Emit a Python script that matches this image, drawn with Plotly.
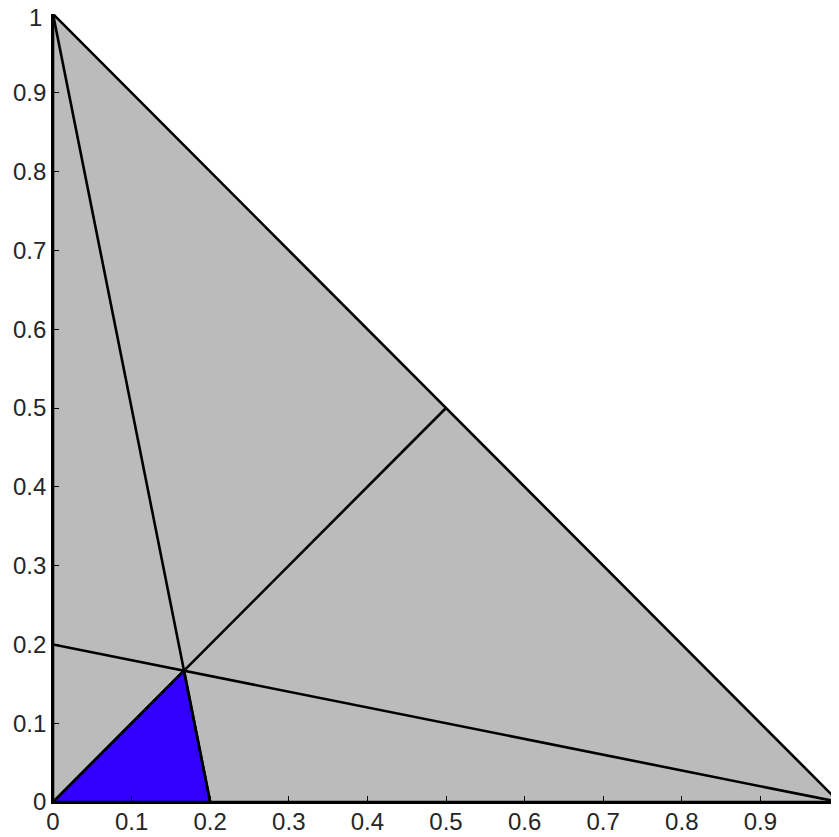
import plotly.graph_objects as go

# Data
outer_x = [0, 1, 0, 0]
outer_y = [0, 0, 1, 0]
blue_x = [0, 0.2, 1/6, 0]
blue_y = [0, 0, 1/6, 0]
seg1_x = [0, 0.2]
seg1_y = [1, 0]
seg2_x = [0, 0.5]
seg2_y = [0, 0.5]
seg3_x = [0, 1]
seg3_y = [0.2, 0]
tick_vals = [0, 0.1, 0.2, 0.3, 0.4, 0.5, 0.6, 0.7, 0.8, 0.9, 1]
tick_text = ["0", "0.1", "0.2", "0.3", "0.4", "0.5", "0.6", "0.7", "0.8", "0.9", "1"]

GRAY = "#bbbbbb"
BLUE = "#3300ff"
LW = 2.6
FONT = dict(family="Liberation Sans, Arial", size=24, color="#262626")

fig = go.Figure()
fig.add_trace(go.Scatter(x=outer_x, y=outer_y, mode="lines", fill="toself",
                         fillcolor=GRAY, line=dict(color="black", width=LW),
                         hoverinfo="skip"))
fig.add_trace(go.Scatter(x=blue_x, y=blue_y, mode="lines", fill="toself",
                         fillcolor=BLUE, line=dict(color="black", width=LW),
                         hoverinfo="skip"))
for sx, sy in [(seg1_x, seg1_y), (seg2_x, seg2_y), (seg3_x, seg3_y)]:
    fig.add_trace(go.Scatter(x=sx, y=sy, mode="lines",
                             line=dict(color="black", width=LW), hoverinfo="skip"))

axis_common = dict(range=[0, 1], tickvals=tick_vals,
                   ticks="inside", ticklen=6, tickcolor="black", tickwidth=1,
                   showline=True, linecolor="black", linewidth=1.6,
                   showgrid=False, zeroline=False, layer="above traces",
                   ticklabeloverflow="allow", tickfont=FONT)
fig.update_xaxes(**axis_common, ticktext=tick_text, ticklabelstandoff=-3)
# top y label is drawn as an annotation nudged down so it is not clipped by the page edge
fig.update_yaxes(**axis_common, ticktext=tick_text[:-1] + [""])
fig.add_annotation(x=0, xref="paper", y=tick_vals[-1], yref="y", text=tick_text[-1],
                   showarrow=False, xanchor="right", yanchor="middle",
                   xshift=-9, yshift=-3, font=FONT)
# page body has an 8px margin; size and margins compensate for it
fig.update_layout(width=831, height=829, showlegend=False,
                  plot_bgcolor="white", paper_bgcolor="white",
                  margin=dict(l=45, r=0, t=6, b=35, autoexpand=False))
fig.write_html("out.html")
